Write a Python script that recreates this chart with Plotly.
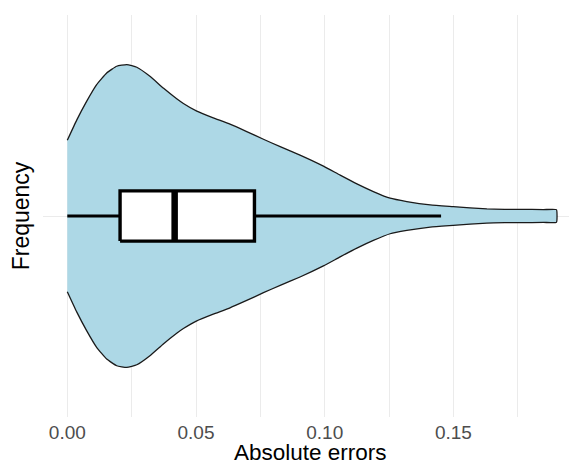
import plotly.graph_objects as go

# Violin outline: position along the axis and half-width (category units)
violin_x = [0.0000, 0.0037, 0.0075, 0.0114, 0.0153, 0.0192, 0.0231, 0.0270, 0.0321,
            0.0373, 0.0425, 0.0451, 0.0503, 0.0567, 0.0632, 0.0697, 0.0762, 0.0827,
            0.0904, 0.0995, 0.1060, 0.1125, 0.1189, 0.1254, 0.1319, 0.1410, 0.1499,
            0.1630, 0.1700, 0.1759, 0.1850, 0.1900]
violin_halfwidth = [0.226, 0.287, 0.342, 0.392, 0.427, 0.447, 0.452, 0.444, 0.417,
                    0.382, 0.350, 0.336, 0.313, 0.293, 0.274, 0.252, 0.229, 0.207,
                    0.182, 0.149, 0.122, 0.096, 0.073, 0.053, 0.043, 0.033, 0.028,
                    0.021, 0.020, 0.020, 0.019, 0.019]

# Box-plot statistics
box_q1 = 0.0205
box_median = 0.0417
box_q3 = 0.0727
whisker_low = 0.0
whisker_high = 0.1452
box_width = 0.15
category_pos = 1

x_ticks = [0.00, 0.05, 0.10, 0.15]
x_tick_labels = ["0.00", "0.05", "0.10", "0.15"]
x_minor_ticks = [0.025, 0.075, 0.125, 0.175]
x_title = "Absolute errors"
y_title = "Frequency"

upper = [category_pos + h for h in violin_halfwidth]
lower = [category_pos - h for h in violin_halfwidth]
poly_x = violin_x + violin_x[::-1]
poly_y = upper + lower[::-1]

fig = go.Figure()
# violin body
fig.add_trace(go.Scatter(
    x=poly_x, y=poly_y, mode="lines", fill="toself",
    fillcolor="#ADD8E6", line=dict(color="#1a1a1a", width=1.3, shape="spline", smoothing=0.4),
    hoverinfo="skip", showlegend=False))

# whiskers
fig.add_trace(go.Scatter(
    x=[whisker_low, box_q1, None, box_q3, whisker_high],
    y=[category_pos, category_pos, None, category_pos, category_pos],
    mode="lines", line=dict(color="black", width=3.2), showlegend=False, hoverinfo="skip"))
# box
b_lo = category_pos - box_width / 2
b_hi = category_pos + box_width / 2
fig.add_trace(go.Scatter(
    x=[box_q1, box_q3, box_q3, box_q1, box_q1],
    y=[b_lo, b_lo, b_hi, b_hi, b_lo],
    mode="lines", fill="toself", fillcolor="white",
    line=dict(color="black", width=3.4), showlegend=False, hoverinfo="skip"))
# median
fig.add_trace(go.Scatter(
    x=[box_median, box_median], y=[b_lo, b_hi],
    mode="lines", line=dict(color="black", width=6.5), showlegend=False, hoverinfo="skip"))

font_family = "Liberation Sans, Arial, sans-serif"
# the page is drawn with an 8px body margin, so the figure is sized/offset accordingly
fig.update_layout(
    width=569, height=457,
    margin=dict(l=35, r=0, t=7, b=48),
    plot_bgcolor="white", paper_bgcolor="white",
    font=dict(family=font_family),
    showlegend=False,
    xaxis=dict(
        range=[-0.00944, 0.198], tickvals=x_ticks, ticktext=x_tick_labels,
        showgrid=True, gridcolor="#EBEBEB", gridwidth=1.3, zeroline=False, showline=False,
        ticks="", tickfont=dict(size=19, color="#4D4D4D"), ticklabelstandoff=2,
        minor=dict(tickvals=x_minor_ticks, showgrid=True, gridcolor="#EBEBEB", gridwidth=0.7),
        automargin=False,
    ),
    yaxis=dict(
        range=[0.4, 1.6], tickvals=[category_pos], ticktext=[""],
        showgrid=True, gridcolor="#EBEBEB", gridwidth=1.3, zeroline=False, showline=False,
        ticks="",
        title=dict(text=y_title, font=dict(size=23, color="black"), standoff=8),
        automargin=False,
    ),
    annotations=[dict(
        text=x_title, xref="paper", yref="paper", x=0.5, y=0,
        xanchor="center", yanchor="middle", yshift=-35.5, showarrow=False,
        font=dict(size=22.5, color="black", family=font_family))],
)

fig.write_html("out.html")
